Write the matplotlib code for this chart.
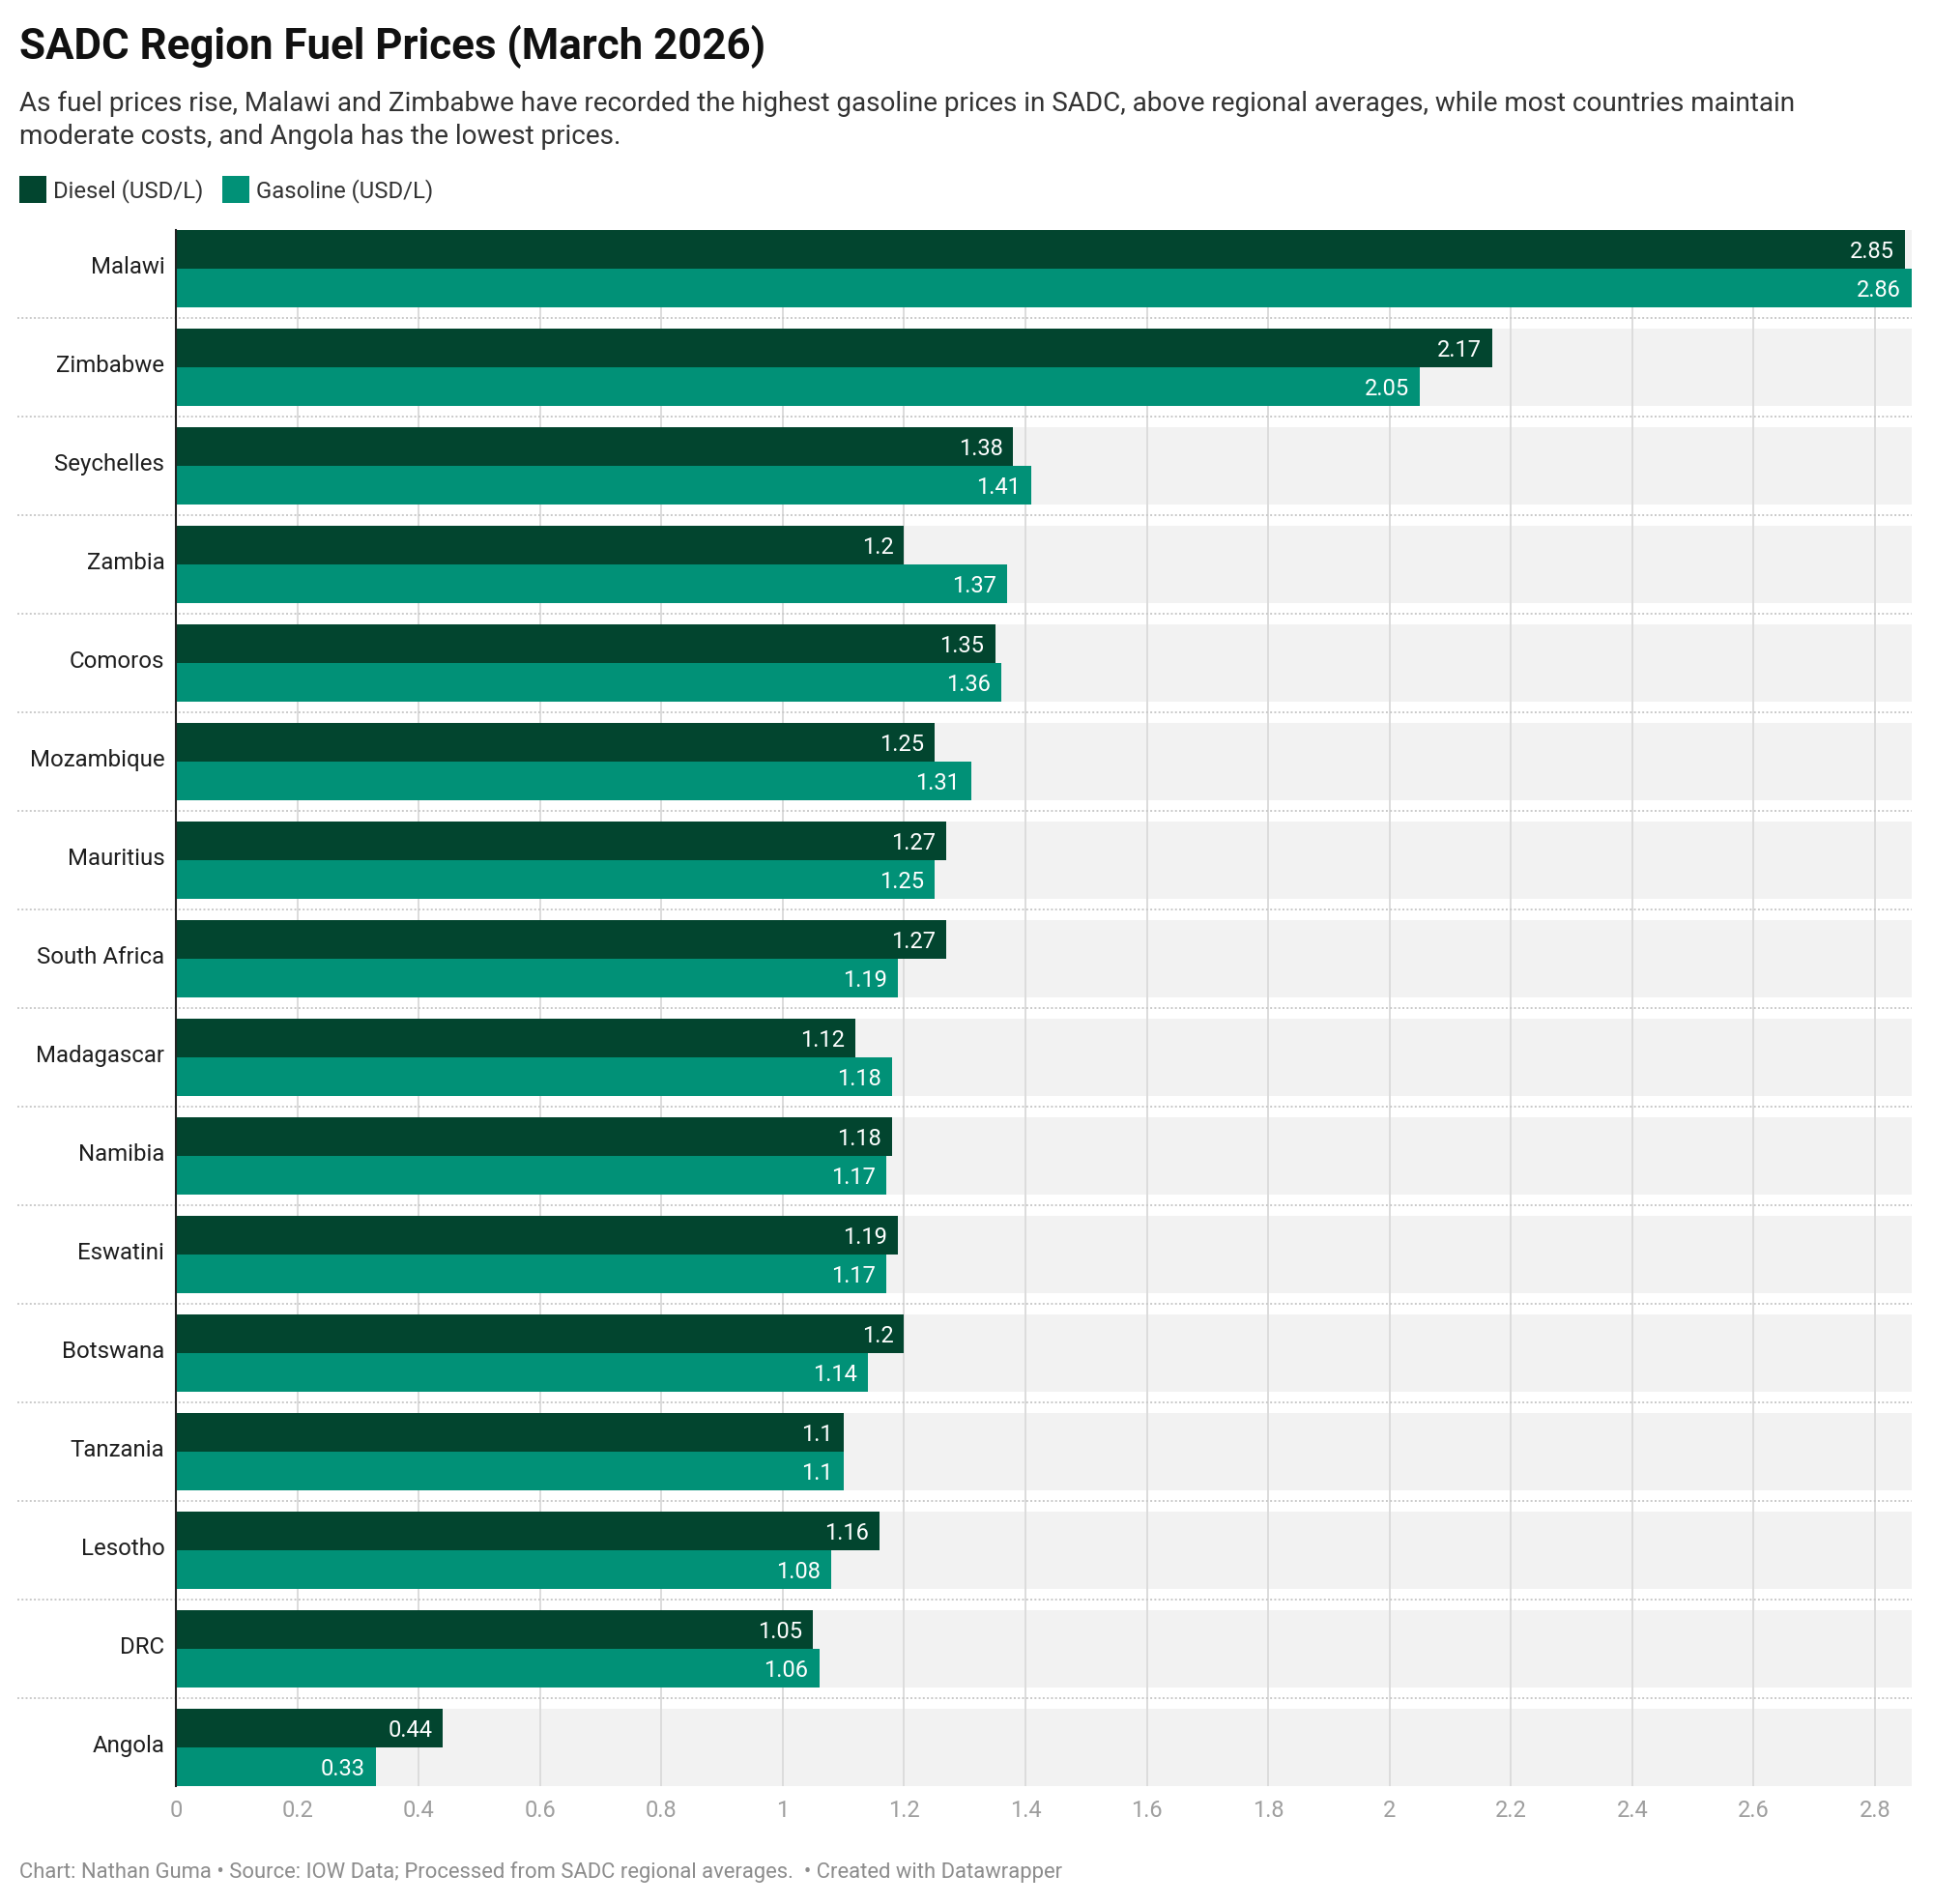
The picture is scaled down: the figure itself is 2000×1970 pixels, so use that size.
import matplotlib
matplotlib.use("Agg")
import matplotlib.pyplot as plt
from matplotlib.patches import Rectangle
from matplotlib.transforms import ScaledTranslation

plt.rcParams["font.family"] = ["Roboto", "DejaVu Sans"]

countries = [
    "Malawi", "Zimbabwe", "Seychelles", "Zambia", "Comoros", "Mozambique",
    "Mauritius", "South Africa", "Madagascar", "Namibia", "Eswatini",
    "Botswana", "Tanzania", "Lesotho", "DRC", "Angola",
]
diesel = [2.85, 2.17, 1.38, 1.2, 1.35, 1.25, 1.27, 1.27, 1.12, 1.18, 1.19, 1.2, 1.1, 1.16, 1.05, 0.44]
gasoline = [2.86, 2.05, 1.41, 1.37, 1.36, 1.31, 1.25, 1.19, 1.18, 1.17, 1.17, 1.14, 1.1, 1.08, 1.06, 0.33]
x_ticks = [0, 0.2, 0.4, 0.6, 0.8, 1, 1.2, 1.4, 1.6, 1.8, 2, 2.2, 2.4, 2.6, 2.8]

title = "SADC Region Fuel Prices (March 2026)"
subtitle = [
    "As fuel prices rise, Malawi and Zimbabwe have recorded the highest gasoline prices in SADC, "
    "above regional averages, while most countries maintain",
    "moderate costs, and Angola has the lowest prices.",
]
footer = "Chart: Nathan Guma \u2022 Source: IOW Data; Processed from SADC regional averages.  \u2022 Created with Datawrapper"

DIESEL_C = "#02452f"
GAS_C = "#019177"
BAND_C = "#f2f2f2"
W, H = 2000, 1970


def fx(px):
    return px / W


def fy(py):
    return 1 - py / H


fig = plt.figure(figsize=(W / 100, H / 100), dpi=100, facecolor="white")
ax = fig.add_axes([fx(182), fy(1847.7), (1977.7 - 182) / W, (1847.7 - 238) / H])

n = len(countries)
half = 0.392
bar_h = half
ys = list(range(n))

for y in ys:
    ax.axhspan(y - half, y + half, color=BAND_C, zorder=0, lw=0)

ax.barh([y - bar_h / 2 for y in ys], diesel, height=bar_h, color=DIESEL_C, zorder=2)
ax.barh([y + bar_h / 2 for y in ys], gasoline, height=bar_h, color=GAS_C, zorder=2)

for y, d, g in zip(ys, diesel, gasoline):
    for val, yy in ((d, y - bar_h / 2), (g, y + bar_h / 2)):
        ax.annotate(f"{val:g}", xy=(val, yy), xytext=(-8, 0), textcoords="offset points",
                    ha="right", va="center_baseline", color="white", fontsize=17, zorder=4)

# dotted separators between rows, reaching into the label area
ax.hlines([y + 0.5 for y in ys[:-1]], -0.0913, 1, transform=ax.get_yaxis_transform(),
          colors="#c9c9c9", linestyles=(0, (1, 1.2)), lw=1.4, clip_on=False, zorder=1)

ax.set_xlim(0, 2.86)
ax.set_ylim(n - 1 + half, -half)
ax.set_xticks(x_ticks)
ax.set_xticklabels([f"{t:g}" for t in x_ticks])
ax.set_yticks(ys)
ax.set_yticklabels(countries)
ax.tick_params(axis="x", length=0, pad=10, labelsize=17, labelcolor="#9e9e9e")
ax.tick_params(axis="y", length=0, pad=8.4, labelsize=17.3, labelcolor="#1e1e1e")
lift = ScaledTranslation(0, 4 / 100, fig.dpi_scale_trans)
for lbl in ax.get_yticklabels():
    lbl.set_transform(lbl.get_transform() + lift)
ax.grid(axis="x", color="#dcdcdc", lw=1.4)
ax.set_axisbelow(True)
for side in ("top", "right", "bottom"):
    ax.spines[side].set_visible(False)
ax.spines["left"].set_color("#222222")
ax.spines["left"].set_linewidth(1.5)
ax.spines["left"].set_zorder(5)

fig.text(fx(20), fy(61.5), title, fontsize=31.6, fontweight="bold", color="#111111", va="baseline")
fig.text(fx(20), fy(115), subtitle[0], fontsize=20.1, color="#333333", va="baseline")
fig.text(fx(20), fy(149), subtitle[1], fontsize=20.1, color="#333333", va="baseline")

legend_items = [("Diesel (USD/L)", DIESEL_C, 20, 55), ("Gasoline (USD/L)", GAS_C, 230, 265)]
for label, color, box_x, text_x in legend_items:
    fig.patches.append(Rectangle((fx(box_x), fy(210)), 28 / W, 28 / H, transform=fig.transFigure,
                                 facecolor=color, edgecolor="none"))
    fig.text(fx(text_x), fy(204.3), label, fontsize=17.2, color="#333333", va="baseline")

fig.text(fx(20), fy(1943), footer, fontsize=15.8, color="#8c8c8c", va="baseline")

fig.savefig("out.png", dpi=100, facecolor="white")
